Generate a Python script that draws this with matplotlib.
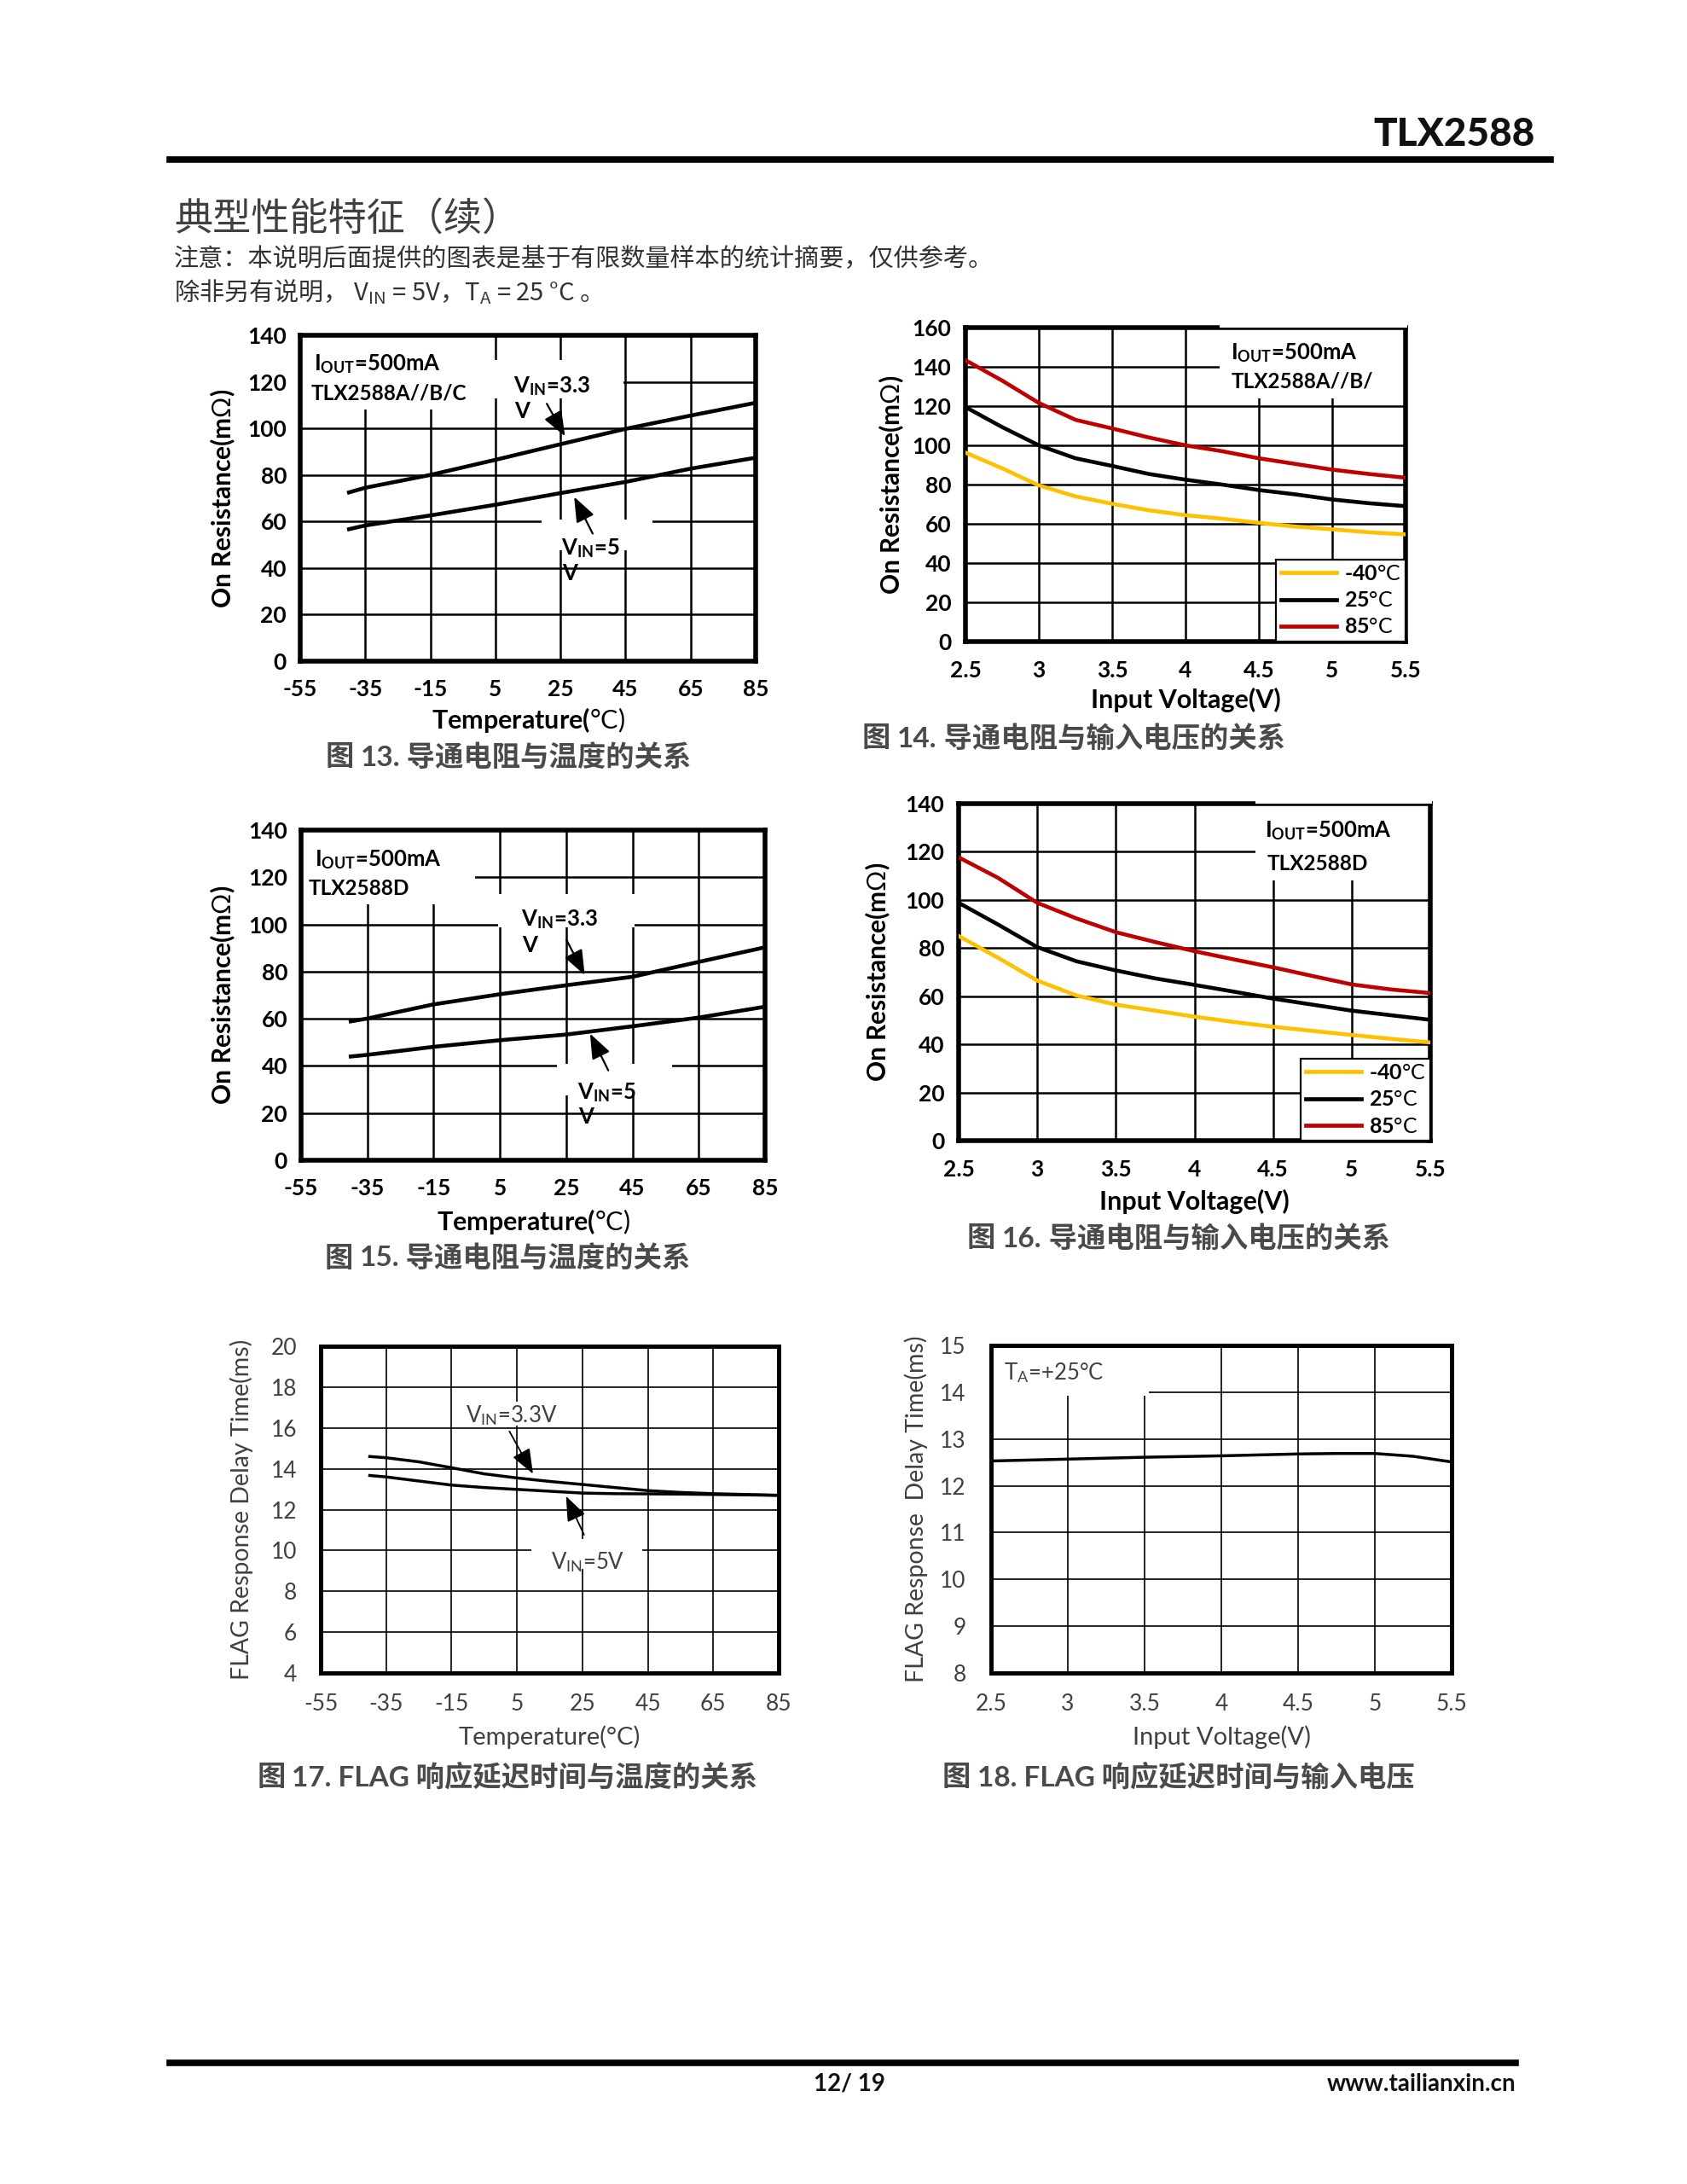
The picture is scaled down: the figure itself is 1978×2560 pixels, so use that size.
import matplotlib
matplotlib.use('Agg')
import matplotlib.pyplot as plt
from matplotlib.patches import Rectangle
from matplotlib.lines import Line2D
from matplotlib.offsetbox import TextArea, HPacker, AnnotationBbox

W, H = 1978, 2560
LAT = ['Lato', 'Noto Sans CJK SC', 'DejaVu Sans']
CJK = ['Noto Sans CJK SC', 'DejaVu Sans']
plt.rcParams['font.family'] = LAT
plt.rcParams['axes.unicode_minus'] = False
plt.rcParams['mathtext.fontset'] = 'custom'
plt.rcParams['mathtext.rm'] = 'Lato'
plt.rcParams['mathtext.it'] = 'Lato:italic'
plt.rcParams['mathtext.bf'] = 'Lato:bold'

# ---------------- data ----------------
temp_ticks = [-55, -35, -15, 5, 25, 45, 65, 85]
temp_labels = ['-55', '-35', '-15', '5', '25', '45', '65', '85']
volt_ticks = [2.5, 3.0, 3.5, 4.0, 4.5, 5.0, 5.5]
volt_labels = ['2.5', '3', '3.5', '4', '4.5', '5', '5.5']

# Fig 13
temp13 = [-40, -35, -15, 5, 25, 45, 65, 85]
r13_vin33 = [72.5, 74.5, 80.0, 86.5, 93.2, 99.8, 105.5, 111.0]
r13_vin5 = [56.7, 58.3, 62.6, 67.2, 72.2, 77.0, 82.7, 87.4]
r13_yticks = [0, 20, 40, 60, 80, 100, 120, 140]

# Fig 14
volt14 = [2.5, 2.75, 3.0, 3.25, 3.5, 3.75, 4.0, 4.25, 4.5, 4.75, 5.0, 5.25, 5.5]
r14_m40 = [96.3, 88.3, 79.6, 74.0, 70.2, 66.9, 64.4, 62.6, 60.5, 58.6, 57.2, 55.7, 54.6]
r14_25 = [119.5, 109.3, 100.0, 93.4, 89.5, 85.4, 82.5, 80.0, 77.2, 75.0, 72.4, 70.5, 69.0]
r14_85 = [143.4, 133.0, 121.6, 113.0, 108.6, 104.0, 100.0, 97.0, 93.4, 90.5, 87.6, 85.4, 83.5]
r14_yticks = [0, 20, 40, 60, 80, 100, 120, 140, 160]

# Fig 15
temp15 = [-40, -35, -15, 5, 25, 45, 65, 85]
r15_vin33 = [58.9, 60.1, 66.1, 70.4, 74.2, 77.8, 84.1, 90.3]
r15_vin5 = [44.0, 44.7, 48.1, 50.9, 53.3, 56.8, 60.5, 65.1]
r15_yticks = [0, 20, 40, 60, 80, 100, 120, 140]

# Fig 16
volt16 = [2.5, 2.75, 3.0, 3.25, 3.5, 3.75, 4.0, 4.25, 4.5, 4.75, 5.0, 5.25, 5.5]
r16_m40 = [85.0, 76.0, 66.5, 60.3, 56.5, 54.0, 51.5, 49.3, 47.3, 45.6, 43.9, 42.3, 40.8]
r16_25 = [98.8, 89.8, 80.4, 74.5, 70.7, 67.4, 64.7, 61.9, 59.0, 56.5, 54.0, 52.1, 50.2]
r16_85 = [117.7, 109.2, 98.8, 92.3, 86.6, 82.5, 78.7, 75.3, 72.0, 68.4, 64.9, 62.8, 61.3]
r16_yticks = [0, 20, 40, 60, 80, 100, 120, 140]

legend_labels = [r'-40$\mathrm{°C}$', r'25$\mathrm{°C}$', r'85$\mathrm{°C}$']

# Fig 17
temp17 = [-40, -35, -25, -15, -5, 5, 15, 25, 35, 45, 55, 65, 85]
t17_vin33 = [14.6, 14.54, 14.34, 14.05, 13.75, 13.55, 13.38, 13.23, 13.08, 12.93, 12.84, 12.78, 12.7]
t17_vin5 = [13.67, 13.6, 13.4, 13.2, 13.08, 12.99, 12.9, 12.81, 12.78, 12.77, 12.76, 12.74, 12.7]
t17_yticks = [4, 6, 8, 10, 12, 14, 16, 18, 20]

# Fig 18
volt18 = [2.5, 3.0, 3.5, 4.0, 4.5, 4.75, 5.0, 5.25, 5.5]
t18 = [12.53, 12.57, 12.61, 12.64, 12.68, 12.69, 12.69, 12.63, 12.51]
t18_yticks = [8, 9, 10, 11, 12, 13, 14, 15]

YELLOW = '#FFC000'
RED = '#C00000'
GRAY = '#404040'

# ---------------- figure ----------------
fig = plt.figure(figsize=(W / 100, H / 100), dpi=100)


def fy(y):
    return 1 - y / H


def add_ax(L, R, T, B):
    return fig.add_axes([L / W, 1 - B / H, (R - L) / W, (B - T) / H])


def style(ax, xt, xl, yt, xlim, ylim, bold, grid_lw, spine_lw, color, xpad, ypad, fs):
    ax.set_xlim(xlim)
    ax.set_ylim(ylim)
    ax.set_xticks(xt)
    ax.set_yticks(yt)
    w = 'bold' if bold else 'normal'
    ax.set_xticklabels(xl, fontsize=fs, fontweight=w, color=color, family=LAT)
    ax.set_yticklabels([str(v) for v in yt], fontsize=fs, fontweight=w, color=color, family=LAT)
    ax.tick_params(length=0)
    ax.tick_params(axis='x', pad=xpad)
    ax.tick_params(axis='y', pad=ypad)
    ax.grid(True, color='k', lw=grid_lw)
    ax.set_axisbelow(True)
    for s in ax.spines.values():
        s.set_linewidth(spine_lw)
        s.set_color('k')


def labels(ax, xlab, ylab, xy, yx, bold, fs, color):
    w = 'bold' if bold else 'normal'
    ax.text(0.5, xy, xlab, transform=ax.transAxes, ha='center', va='center',
            fontsize=fs, fontweight=w, color=color, family=LAT)
    ax.text(yx, 0.5, ylab, transform=ax.transAxes, ha='center', va='center',
            rotation=90, fontsize=fs - 0.5, fontweight=w, color=color, family=LAT)


def whitebox(ax, x0, x1, y0, y1):
    ax.add_patch(Rectangle((x0, y0), x1 - x0, y1 - y0, fc='white', ec='none', zorder=1))


def thin_top(ax, x0frac, px, ax_h):
    # lighten the outer half of the top frame where the text box overlaps it
    ax.add_patch(Rectangle((x0frac, 1.0 + 0.2 / ax_h), 1.0 - x0frac + 0.004, px / ax_h,
                           transform=ax.transAxes, fc='white', ec='none',
                           zorder=3, clip_on=False))


def arrow(ax, start, end, lw=1.6):
    ax.annotate('', xy=end, xytext=start,
                arrowprops=dict(arrowstyle='-|>,head_length=0.9,head_width=0.35',
                                lw=lw, color='k', shrinkA=0, shrinkB=0,
                                mutation_scale=20), zorder=5)


def note(ax, x, y, s, bold=True, fs=18, color='k'):
    ax.text(x, y, s, ha='left', va='center', fontsize=fs,
            fontweight='bold' if bold else 'normal', color=color, family=LAT, zorder=6)


def caption(xpx, ypx, parts):
    areas = [TextArea(t, textprops=p) for t, p in parts]
    box = HPacker(children=areas, align='baseline', pad=0, sep=0)
    ab = AnnotationBbox(box, (xpx / W, fy(ypx)), xycoords='figure fraction',
                        frameon=False, box_alignment=(0.5, 0.5), pad=0)
    fig.add_artist(ab)


def legend(ax, handles):
    leg = ax.legend(handles, legend_labels, loc='lower right', bbox_to_anchor=(1, 0),
                    borderaxespad=0, fancybox=False, framealpha=1, edgecolor='k',
                    prop=dict(family=LAT, weight='bold', size=18), handlelength=2.6,
                    handletextpad=0.35, labelspacing=0.33, borderpad=0.22)
    leg.get_frame().set_linewidth(1.6)
    for h in leg.get_lines():
        h.set_linewidth(3.4)
    leg.set_zorder(6)


cap_cjk = dict(fontsize=24, family=CJK, fontweight='bold', color='#4a4a4a')
cap_num = dict(fontsize=24, family=LAT, fontweight='bold', color='#4a4a4a')

XLAB_T = r'Temperature($\mathrm{°C)}$'
YLAB_R = r'On Resistance(m$\mathrm{Ω}$)'
XLAB_V = 'Input Voltage(V)'

# ---------------- header ----------------
fig.text(1800 / W, fy(158), 'TLX2588', ha='right', va='center', fontsize=33,
         fontweight='black', family=LAT, color='#111111')
fig.add_artist(Line2D([199 / W, 1818 / W], [fy(187)] * 2, lw=5.5, color='k'))
fig.text(204 / W, fy(257), '典型性能特征（续）', ha='left', va='center', fontsize=32.5,
         family=CJK, color='#404040')
fig.text(204 / W, fy(304), '注意：本说明后面提供的图表是基于有限数量样本的统计摘要，仅供参考。',
         ha='left', va='center', fontsize=21, family=CJK, color='#333333')
fig.text(204 / W, fy(343), r'除非另有说明， V$_\mathregular{IN}$ = 5V，T$_\mathregular{A}$ = 25 °C 。',
         ha='left', va='center', fontsize=21, family=CJK, color='#333333')

# ---------------- Fig 13 ----------------
ax = add_ax(352, 886, 393, 775)
style(ax, temp_ticks, temp_labels, r13_yticks, (-55, 85), (0, 140), True, 1.8, 4, 'k', 15, 11.5, 19)
whitebox(ax, -55, 4.3, 108, 140)
whitebox(ax, 4.3, 44.3, 113, 129.4)
whitebox(ax, 19.3, 53.3, 47.6, 61)
ax.plot(temp13, r13_vin33, color='k', lw=3.3, zorder=3)
ax.plot(temp13, r13_vin5, color='k', lw=3.3, zorder=3)
note(ax, -50.7, 127.7, r'I$_\mathregular{OUT}$=500mA', fs=18.5)
note(ax, -51.8, 115.0, 'TLX2588A//B/C', fs=17.5)
note(ax, 10.6, 118.2, r'V$_\mathregular{IN}$=3.3', fs=18.5)
note(ax, 10.9, 107.4, 'V', fs=18.5)
note(ax, 25.3, 48.4, r'V$_\mathregular{IN}$=5', fs=18.5)
note(ax, 25.6, 37.7, 'V', fs=18.5)
arrow(ax, (20.8, 110.6), (26.4, 96.6))
arrow(ax, (34.9, 54.8), (29.2, 70.6))
labels(ax, XLAB_T, YLAB_R, -0.181, -0.170, True, 22, 'k')
caption(596, 888, [('图 ', cap_cjk), ('13.', cap_num), (' 导通电阻与温度的关系', cap_cjk)])

# ---------------- Fig 14 ----------------
ax = add_ax(1132, 1648, 384, 752)
style(ax, volt_ticks, volt_labels, r14_yticks, (2.5, 5.5), (0, 160), True, 1.8, 4, 'k', 16, 12, 19)
whitebox(ax, 4.23, 5.5, 124, 160)
thin_top(ax, (4.23 - 2.5) / 3.0, 2.6, 368)
l1, = ax.plot(volt14, r14_m40, color=YELLOW, lw=3.3, zorder=3)
l2, = ax.plot(volt14, r14_25, color='k', lw=3.3, zorder=3)
l3, = ax.plot(volt14, r14_85, color=RED, lw=3.3, zorder=3)
note(ax, 4.31, 147, r'I$_\mathregular{OUT}$=500mA', fs=18.5)
note(ax, 4.31, 132.5, 'TLX2588A//B/', fs=17.5)
legend(ax, [l1, l2, l3])
labels(ax, XLAB_V, YLAB_R, -0.185, -0.169, True, 22, 'k')
caption(1259, 866, [('图 ', cap_cjk), ('14.', cap_num), (' 导通电阻与输入电压的关系', cap_cjk)])

# ---------------- Fig 15 ----------------
ax = add_ax(353, 897, 973, 1360)
style(ax, temp_ticks, temp_labels, r15_yticks, (-55, 85), (0, 140), True, 1.8, 4, 'k', 15, 11.5, 19)
whitebox(ax, -55, -2.5, 108.5, 140)
whitebox(ax, 4.4, 45.6, 98.8, 113)
whitebox(ax, 22.3, 56.9, 27.6, 40.9)
ax.plot(temp15, r15_vin33, color='k', lw=3.3, zorder=3)
ax.plot(temp15, r15_vin5, color='k', lw=3.3, zorder=3)
note(ax, -50.8, 127.6, r'I$_\mathregular{OUT}$=500mA', fs=18.5)
note(ax, -52.8, 115.2, 'TLX2588D', fs=17.5)
note(ax, 11.3, 102.1, r'V$_\mathregular{IN}$=3.3', fs=18.5)
note(ax, 11.6, 91.0, 'V', fs=18.5)
note(ax, 28.4, 28.8, r'V$_\mathregular{IN}$=5', fs=18.5)
note(ax, 28.7, 18.3, 'V', fs=18.5)
arrow(ax, (25.1, 93.4), (30.6, 78.5))
arrow(ax, (37.7, 38.1), (32.2, 53.7))
labels(ax, XLAB_T, YLAB_R, -0.186, -0.169, True, 22, 'k')
caption(595, 1475, [('图 ', cap_cjk), ('15.', cap_num), (' 导通电阻与温度的关系', cap_cjk)])

# ---------------- Fig 16 ----------------
ax = add_ax(1124, 1677, 942, 1337)
style(ax, volt_ticks, volt_labels, r16_yticks, (2.5, 5.5), (0, 140), True, 1.8, 4, 'k', 16, 12, 19)
whitebox(ax, 4.39, 5.5, 108, 140)
thin_top(ax, (4.39 - 2.5) / 3.0, 2.6, 395)
l1, = ax.plot(volt16, r16_m40, color=YELLOW, lw=3.3, zorder=3)
l2, = ax.plot(volt16, r16_25, color='k', lw=3.3, zorder=3)
l3, = ax.plot(volt16, r16_85, color=RED, lw=3.3, zorder=3)
note(ax, 4.45, 128.7, r'I$_\mathregular{OUT}$=500mA', fs=18.5)
note(ax, 4.46, 114.9, 'TLX2588D', fs=17.5)
legend(ax, [l1, l2, l3])
labels(ax, XLAB_V, YLAB_R, -0.18, -0.172, True, 22, 'k')
caption(1382, 1452, [('图 ', cap_cjk), ('16.', cap_num), (' 导通电阻与输入电压的关系', cap_cjk)])

# ---------------- Fig 17 ----------------
ax = add_ax(376, 913, 1578, 1961)
style(ax, temp_ticks, temp_labels, t17_yticks, (-55, 85), (4, 20), False, 1.2, 3.6, GRAY, 17, 20, 19)
whitebox(ax, -12.4, 17.2, 16.13, 17.3)
whitebox(ax, 9.4, 43.4, 9.1, 10.55)
ax.plot(temp17, t17_vin33, color='k', lw=2.5, zorder=3)
ax.plot(temp17, t17_vin5, color='k', lw=2.5, zorder=3)
note(ax, -10.7, 16.62, r'V$_\mathregular{IN}$=3.3V', bold=False, fs=18.5, color=GRAY)
note(ax, 15.5, 9.43, r'V$_\mathregular{IN}$=5V', bold=False, fs=18.5, color=GRAY)
arrow(ax, (2.7, 15.83), (9.9, 13.75), lw=1.3)
arrow(ax, (25.5, 10.77), (20.0, 12.66), lw=1.3)
labels(ax, 'Temperature(°C)', 'FLAG Response Delay Time(ms)', -0.196, -0.173, False, 21, GRAY)
caption(595, 2084, [('图 ', cap_cjk), ('17. FLAG', cap_num), (' 响应延迟时间与温度的关系', cap_cjk)])

# ---------------- Fig 18 ----------------
ax = add_ax(1162, 1702, 1577, 1961)
style(ax, volt_ticks, volt_labels, t18_yticks, (2.5, 5.5), (8, 15), False, 1.2, 3.6, GRAY, 17, 21, 19)
whitebox(ax, 2.5, 3.53, 13.93, 15)
ax.plot(volt18, t18, color='k', lw=2.5, zorder=3)
note(ax, 2.586, 14.41, r'T$_\mathregular{A}$=+25°C', bold=False, fs=18.5, color=GRAY)
labels(ax, XLAB_V, 'FLAG Response  Delay Time(ms)', -0.196, -0.163, False, 21, GRAY)
caption(1382, 2084, [('图 ', cap_cjk), ('18. FLAG', cap_num), (' 响应延迟时间与输入电压', cap_cjk)])

# ---------------- footer ----------------
fig.add_artist(Line2D([199 / W, 1777 / W], [fy(2418)] * 2, lw=5.5, color='k'))
fig.text(996 / W, fy(2443), '12/ 19', ha='center', va='center', fontsize=20,
         fontweight='bold', family=LAT, color='#111111')
fig.text(1777 / W, fy(2443), 'www.tailianxin.cn', ha='right', va='center', fontsize=20,
         fontweight='bold', family=LAT, color='#111111')

fig.savefig('out.png', dpi=100, facecolor='white')
